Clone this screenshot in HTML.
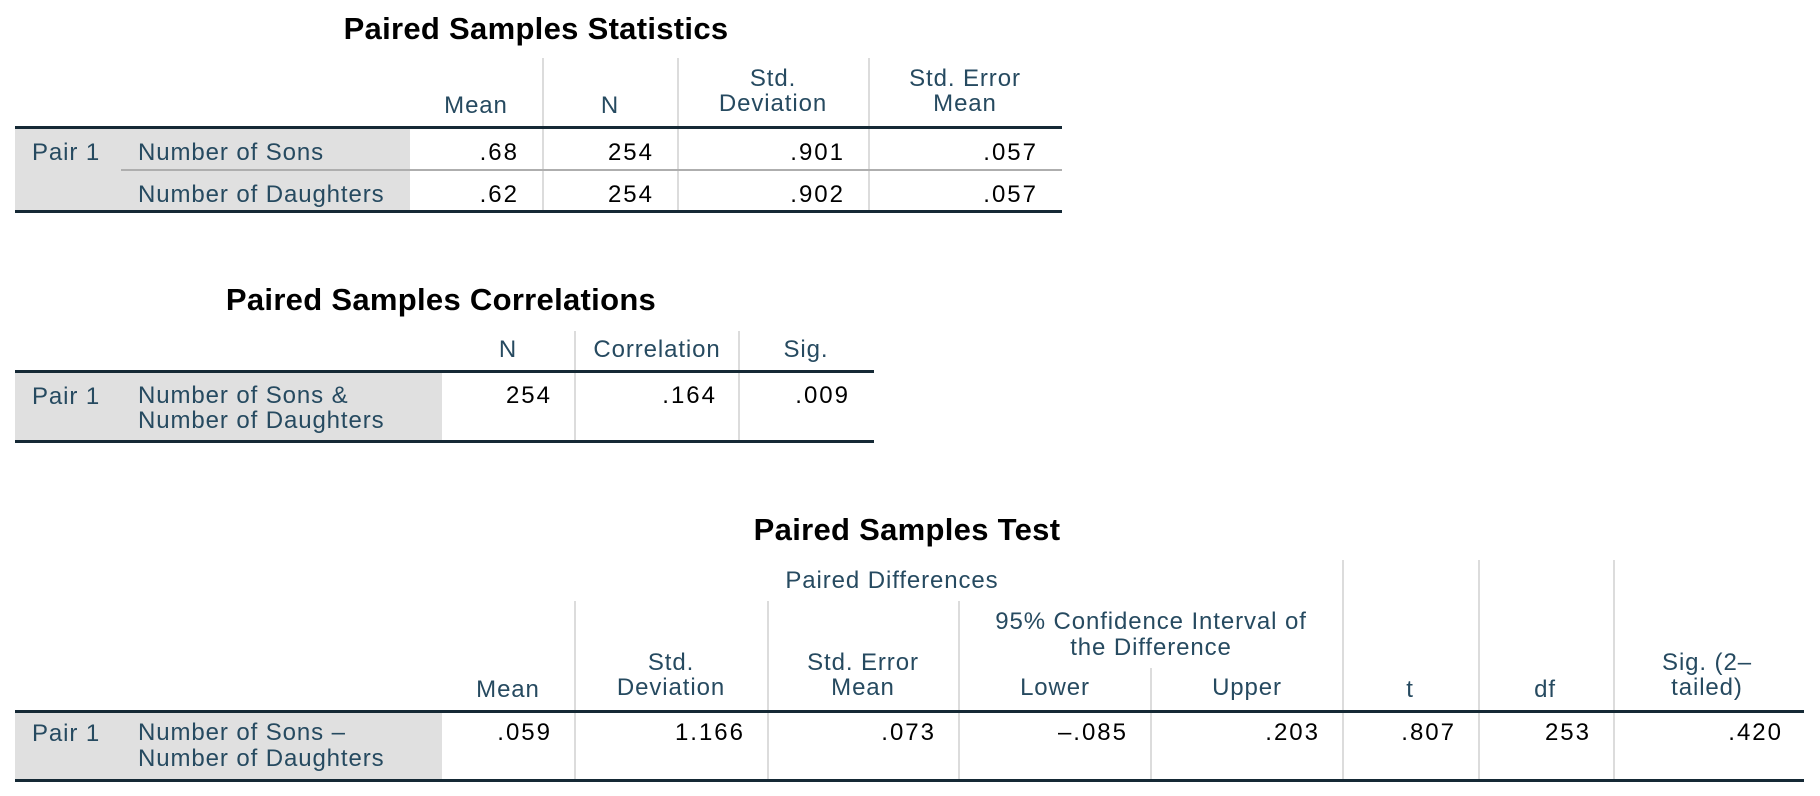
<!DOCTYPE html>
<html><head><meta charset="utf-8"><style>
html,body{margin:0;padding:0;background:#fff;}
svg{display:block;}
text{font-family:"Liberation Sans","DejaVu Sans",sans-serif;font-size:24px;letter-spacing:0.9px;}
.h{fill:#264a60;}
.n{fill:#000;text-anchor:end;letter-spacing:2px;}
.c{text-anchor:middle;}
.t{font-weight:bold;font-size:31px;fill:#000;text-anchor:middle;letter-spacing:0.3px;}
.lg{stroke:#dcdcdc;stroke-width:2;}
.tk{stroke:#152935;stroke-width:3;}
</style></head><body>
<svg width="1820" height="796" xmlns="http://www.w3.org/2000/svg">
<!-- Table 1 -->
<text class="t" x="536" y="39">Paired Samples Statistics</text>
<rect x="15" y="129" width="395" height="81" fill="#e0e0e0"/>
<line class="lg" x1="543" y1="58" x2="543" y2="210"/>
<line class="lg" x1="678" y1="58" x2="678" y2="210"/>
<line class="lg" x1="869" y1="58" x2="869" y2="210"/>
<line x1="121" y1="170" x2="1062" y2="170" stroke="#aeaeae" stroke-width="2"/>
<line class="tk" x1="15" y1="127.5" x2="1062" y2="127.5"/>
<line class="tk" x1="15" y1="211.5" x2="1062" y2="211.5"/>
<text class="h c" x="476" y="113">Mean</text>
<text class="h c" x="610" y="113">N</text>
<text class="h c" x="773" y="86">Std.</text>
<text class="h c" x="773" y="111">Deviation</text>
<text class="h c" x="965" y="86">Std. Error</text>
<text class="h c" x="965" y="111">Mean</text>
<text class="h" x="32" y="160">Pair 1</text>
<text class="h" x="138" y="160">Number of Sons</text>
<text class="h" x="138" y="202">Number of Daughters</text>
<text class="n" x="519" y="160">.68</text>
<text class="n" x="654" y="160">254</text>
<text class="n" x="845" y="160">.901</text>
<text class="n" x="1038" y="160">.057</text>
<text class="n" x="519" y="202">.62</text>
<text class="n" x="654" y="202">254</text>
<text class="n" x="845" y="202">.902</text>
<text class="n" x="1038" y="202">.057</text>

<!-- Table 2 -->
<text class="t" x="441" y="310">Paired Samples Correlations</text>
<rect x="15" y="372" width="427" height="68" fill="#e0e0e0"/>
<line class="lg" x1="575" y1="331" x2="575" y2="440"/>
<line class="lg" x1="739" y1="331" x2="739" y2="440"/>
<line class="tk" x1="15" y1="371.5" x2="874" y2="371.5"/>
<line class="tk" x1="15" y1="441.5" x2="874" y2="441.5"/>
<text class="h c" x="508" y="357">N</text>
<text class="h c" x="657" y="357">Correlation</text>
<text class="h c" x="806" y="357">Sig.</text>
<text class="h" x="32" y="404">Pair 1</text>
<text class="h" x="138" y="403">Number of Sons &amp;</text>
<text class="h" x="138" y="428">Number of Daughters</text>
<text class="n" x="552" y="403">254</text>
<text class="n" x="717" y="403">.164</text>
<text class="n" x="850" y="403">.009</text>

<!-- Table 3 -->
<text class="t" x="907" y="540">Paired Samples Test</text>
<rect x="15" y="712" width="427" height="67" fill="#e0e0e0"/>
<line class="lg" x1="575" y1="601" x2="575" y2="779"/>
<line class="lg" x1="768" y1="601" x2="768" y2="779"/>
<line class="lg" x1="959" y1="601" x2="959" y2="779"/>
<line class="lg" x1="1151" y1="668" x2="1151" y2="779"/>
<line class="lg" x1="1343" y1="560" x2="1343" y2="779"/>
<line class="lg" x1="1479" y1="560" x2="1479" y2="779"/>
<line class="lg" x1="1614" y1="560" x2="1614" y2="779"/>
<line class="tk" x1="15" y1="711.5" x2="1804" y2="711.5"/>
<line class="tk" x1="15" y1="780.5" x2="1804" y2="780.5"/>
<text class="h c" x="892" y="588">Paired Differences</text>
<text class="h c" x="1151" y="629">95% Confidence Interval of</text>
<text class="h c" x="1151" y="655">the Difference</text>
<text class="h c" x="508" y="697">Mean</text>
<text class="h c" x="671" y="670">Std.</text>
<text class="h c" x="671" y="695">Deviation</text>
<text class="h c" x="863" y="670">Std. Error</text>
<text class="h c" x="863" y="695">Mean</text>
<text class="h c" x="1055" y="695">Lower</text>
<text class="h c" x="1247" y="695">Upper</text>
<text class="h c" x="1410" y="697">t</text>
<text class="h c" x="1545" y="697">df</text>
<text class="h c" x="1707" y="670">Sig. (2–</text>
<text class="h c" x="1707" y="695">tailed)</text>
<text class="h" x="32" y="741">Pair 1</text>
<text class="h" x="138" y="740">Number of Sons –</text>
<text class="h" x="138" y="766">Number of Daughters</text>
<text class="n" x="552" y="740">.059</text>
<text class="n" x="745" y="740">1.166</text>
<text class="n" x="936" y="740">.073</text>
<text class="n" x="1128" y="740">–.085</text>
<text class="n" x="1320" y="740">.203</text>
<text class="n" x="1456" y="740">.807</text>
<text class="n" x="1591" y="740">253</text>
<text class="n" x="1783" y="740">.420</text>
</svg>
</body></html>
